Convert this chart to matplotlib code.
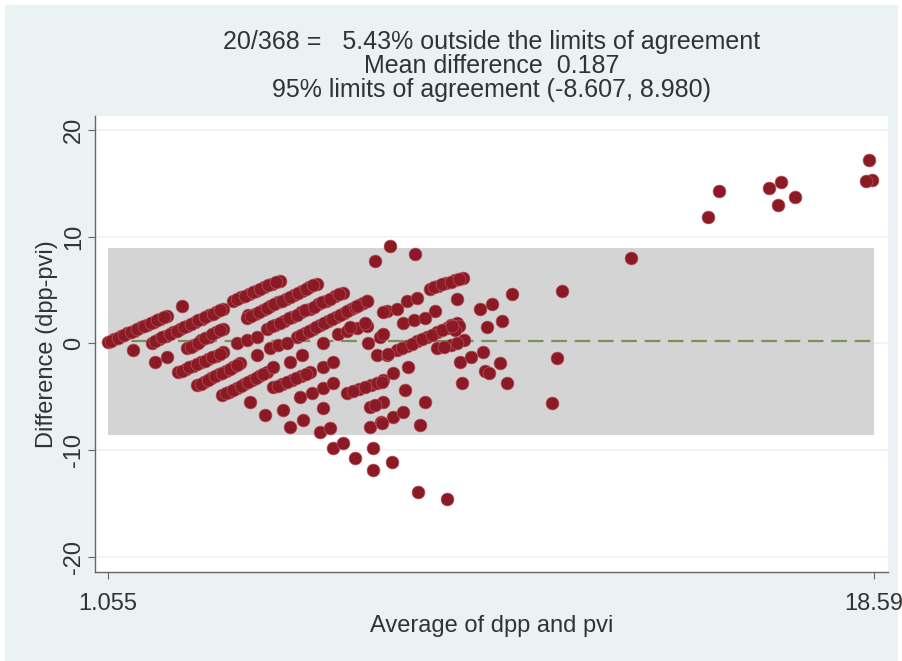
"""Bland-Altman plot of dpp vs pvi (Stata s2color look)."""

import numpy as np
import matplotlib.pyplot as plt
from matplotlib.patches import Rectangle

# ---- data: (average, difference) ----
left_pts = [
    (1.06, 0.10), (1.20, 0.38), (1.35, 0.66), (1.50, 0.94), (1.65, 1.20),
    (1.80, 1.50), (1.95, 1.77), (2.10, 2.05), (2.25, 2.33), (2.40, 2.60),
    (1.13, 0.24), (1.28, 0.52), (1.43, 0.80), (1.58, 1.07), (1.73, 1.35),
    (1.88, 1.64), (2.03, 1.91), (2.18, 2.19), (2.33, 2.47),
    (2.75, 3.55), (1.63, -0.65), (2.13, -1.78), (2.40, -1.31),
    (2.06, 0.09), (2.22, 0.41), (2.38, 0.73), (2.55, 1.04), (2.71, 1.36),
    (2.87, 1.68), (3.04, 2.00), (3.20, 2.32), (3.36, 2.63), (3.53, 2.95),
    (3.69, 3.27),
    (2.14, 0.25), (2.30, 0.57), (2.47, 0.89), (2.63, 1.20), (2.79, 1.52),
    (2.96, 1.84), (3.12, 2.16), (3.28, 2.48), (3.45, 2.79), (3.61, 3.11),
    (2.86, -0.47), (3.03, -0.10), (3.19, 0.28), (3.36, 0.65), (3.52, 1.03),
    (3.69, 1.40),
    (2.95, -0.29), (3.11, 0.09), (3.28, 0.47), (3.44, 0.84), (3.61, 1.22),
    (2.66, -2.71), (2.83, -2.40), (3.00, -2.09), (3.18, -1.78), (3.35, -1.46),
    (3.52, -1.15), (3.69, -0.84),
    (2.75, -2.56), (2.92, -2.25), (3.09, -1.94), (3.27, -1.62), (3.44, -1.31),
    (3.61, -1.00),
    (3.09, -3.93), (3.26, -3.59), (3.42, -3.24), (3.59, -2.90), (3.75, -2.56),
    (3.92, -2.21), (4.08, -1.87),
    (3.18, -3.76), (3.34, -3.42), (3.51, -3.07), (3.67, -2.73), (3.84, -2.39),
    (4.00, -2.04),
    (3.66, -4.86), (3.83, -4.50), (4.00, -4.14), (4.17, -3.78), (4.35, -3.43),
    (4.52, -3.07), (4.69, -2.71), (4.31, -5.51),
    (3.75, -4.68), (3.92, -4.32), (4.09, -3.96), (4.26, -3.60), (4.44, -3.25),
    (4.61, -2.89),
    (3.92, 4.02), (4.10, 4.33), (4.28, 4.64), (4.45, 4.95), (4.63, 5.27),
    (4.81, 5.58), (4.99, 5.89), (4.26, 2.62),
    (4.01, 4.18), (4.19, 4.49), (4.37, 4.80), (4.54, 5.11), (4.72, 5.43),
    (4.90, 5.74),
    (4.01, 0.00), (4.24, 0.28), (4.47, 0.56), (4.47, -1.12),
]

middle_pts = [
    (4.24, 2.43), (4.42, 2.78), (4.60, 3.14), (4.77, 3.49), (4.95, 3.84),
    (5.13, 4.20), (5.31, 4.55), (5.49, 4.90), (5.66, 5.26), (5.84, 5.61),
    (4.33, 2.60), (4.51, 2.96), (4.69, 3.31), (4.86, 3.67), (5.04, 4.02),
    (5.22, 4.38), (5.40, 4.73), (5.58, 5.08), (5.75, 5.44),
    (4.70, 1.40), (4.89, 1.77), (5.09, 2.15), (5.28, 2.52), (5.47, 2.90),
    (5.67, 3.27), (5.86, 3.65), (6.05, 4.02), (6.25, 4.40), (6.44, 4.77),
    (4.80, 1.59), (4.99, 1.96), (5.19, 2.34), (5.38, 2.71), (5.57, 3.09),
    (5.77, 3.46), (5.96, 3.84), (6.15, 4.21), (6.35, 4.59),
    (5.38, 0.56), (5.56, 0.94), (5.74, 1.33), (5.92, 1.71), (6.10, 2.10),
    (6.27, 2.48), (6.45, 2.87), (6.63, 3.25), (6.81, 3.64), (6.98, 4.02),
    (5.47, 0.75), (5.65, 1.14), (5.83, 1.52), (6.01, 1.91), (6.19, 2.29),
    (6.36, 2.68), (6.54, 3.06), (6.72, 3.45), (6.90, 3.83),
    (4.76, -0.47), (4.95, -0.19), (5.15, 0.09), (5.98, 0.00),
    (6.32, 0.93), (6.54, 1.18), (6.76, 1.43), (6.98, 1.68),
    (7.00, 0.00), (7.28, 0.56), (4.83, -2.24), (5.22, -1.78), (5.50, -1.12),
    (4.83, -4.11), (5.04, -3.76), (5.26, -3.41), (5.47, -3.06), (5.68, -2.71),
    (4.94, -3.94), (5.15, -3.59), (5.37, -3.24), (5.58, -2.89),
    (5.45, -5.05), (5.98, -2.24), (6.21, -1.78),
    (5.73, -4.67), (5.97, -4.20), (6.21, -3.74), (5.98, -6.07),
    (4.65, -6.73), (5.06, -6.26), (5.22, -7.85), (5.52, -7.20),
    (5.91, -8.32), (6.14, -7.94),
    (6.53, -4.67), (6.80, -4.27), (7.08, -3.86), (7.35, -3.46),
    (6.67, -4.47), (6.94, -4.07), (7.22, -3.66),
    (7.05, -5.98), (7.35, -5.51), (7.17, -5.79),
    (7.05, -7.85), (7.30, -7.40), (7.58, -6.92), (7.81, -6.45), (7.33, -7.48),
    (6.76, 3.55), (6.98, 4.02), (6.60, 1.50), (6.94, 1.96),
]

right_pts = [
    (7.17, 7.76), (8.08, 8.41), (7.44, 3.08), (7.21, -1.12), (7.35, 0.93),
    (7.35, 2.90), (7.67, 3.27), (7.90, 4.02), (8.13, 4.30), (8.54, 3.08),
    (7.81, 1.87), (8.06, 2.20), (8.31, 2.43),
    (8.43, 5.14), (8.62, 5.40), (8.80, 5.65), (9.00, 5.90), (9.18, 6.17),
    (8.53, 5.27), (8.71, 5.53), (8.90, 5.78), (9.09, 6.04),
    (9.04, 4.20), (10.30, 4.67), (11.45, 4.95), (13.03, 8.00),
    (9.57, 3.27), (9.85, 3.74), (9.73, 1.50), (10.07, 2.15),
    (7.67, -0.65), (7.90, -0.23), (8.13, 0.19), (8.36, 0.61), (8.59, 1.03),
    (8.81, 1.45), (9.04, 1.87), (9.10, 1.60), (9.00, 1.30), (8.90, 1.70),
    (7.79, -0.44), (8.02, -0.02), (8.25, 0.40), (8.48, 0.82), (8.70, 1.24),
    (8.93, 1.66),
    (8.59, -0.47), (8.90, -0.19), (9.21, 0.28), (8.75, -0.33), (9.05, 0.05),
    (9.11, -1.78), (9.37, -1.31), (9.64, -0.84), (10.03, -1.87),
    (9.70, -2.60), (9.78, -2.80), (10.19, -3.74), (9.16, -3.74),
    (11.33, -1.40), (11.22, -5.61),
    (7.44, -1.12), (7.46, -1.03), (7.92, -2.24), (7.58, -2.80),
    (7.85, -4.39), (8.31, -5.51), (7.33, -3.65), (8.20, -7.66),
]

high_pts = [
    (7.51, 9.16), (18.48, 17.20), (18.55, 15.30), (18.42, 15.25),
    (15.04, 14.30), (14.79, 11.80), (16.19, 14.60), (16.46, 15.10),
    (16.39, 13.00), (16.78, 13.70),
]

low_pts = [
    (6.21, -9.81), (6.44, -9.35), (6.71, -10.75), (7.12, -9.81),
    (7.12, -11.87), (7.56, -11.12), (8.15, -13.93), (8.81, -14.58),
]

mean_diff = 0.187
loa_low, loa_high = -8.607, 8.980
x_min, x_max = 1.055, 18.59
y_ticks = [-20, -10, 0, 10, 20]
title_lines = [
    "20/368 =   5.43% outside the limits of agreement",
    "Mean difference  0.187",
    "95% limits of agreement (-8.607, 8.980)",
]

BG = "#eaf2f3"
DOT = "#8b1a24"
TXT = "#333333"
FS = 17

plt.rcParams["font.family"] = ["Liberation Sans", "DejaVu Sans"]

fig = plt.figure(figsize=(9.02, 6.61), dpi=100)
fig.patch.set_facecolor("white")
fig.add_artist(Rectangle((5 / 902, 0), 893 / 902, 656 / 661,
                         transform=fig.transFigure, facecolor=BG,
                         edgecolor="none", zorder=-10))

ax = fig.add_axes([95 / 902, 89 / 661, 793 / 902, 456 / 661])
ax.set_facecolor("white")

# limits-of-agreement band and mean line
ax.fill_between([x_min, x_max], loa_low, loa_high, color="#d4d4d4",
                linewidth=0, zorder=1)
ax.plot([x_min, x_max], [mean_diff, mean_diff], color="#7b8f58",
        linewidth=1.6, dashes=(7, 3.5), zorder=2)

pts = np.array(left_pts + middle_pts + right_pts + high_pts + low_pts)
ax.scatter(pts[:, 0], pts[:, 1], s=85, color=DOT, edgecolors="#b4525c",
           linewidths=0.5, zorder=3)

ax.set_xlim(0.757, 18.92)
ax.set_ylim(-21.4, 21.3)
ax.set_xticks([x_min, x_max])
ax.set_xticklabels(["1.055", "18.59"])
ax.set_yticks(y_ticks)
ax.set_yticklabels([str(t) for t in y_ticks], rotation=90, va="center")
for t in y_ticks:
    ax.axhline(t, color="#eef2f2", linewidth=1.2, zorder=0.5)

for side in ("top", "right"):
    ax.spines[side].set_visible(False)
for side in ("left", "bottom"):
    ax.spines[side].set_color("#666666")
    ax.spines[side].set_linewidth(1.0)
ax.tick_params(colors="#666666", labelcolor=TXT, labelsize=FS, length=5)
ax.tick_params(axis="x", pad=10)
ax.tick_params(axis="y", pad=2)

ax.set_xlabel("Average of dpp and pvi", fontsize=FS, color=TXT, labelpad=0)
ax.set_ylabel("Difference (dpp-pvi)", fontsize=FS, color=TXT, labelpad=4)
ax.set_title("\n".join(title_lines), fontsize=18, color=TXT,
             linespacing=0.98, pad=14)

fig.savefig("out.png", dpi=100, facecolor=fig.get_facecolor())
